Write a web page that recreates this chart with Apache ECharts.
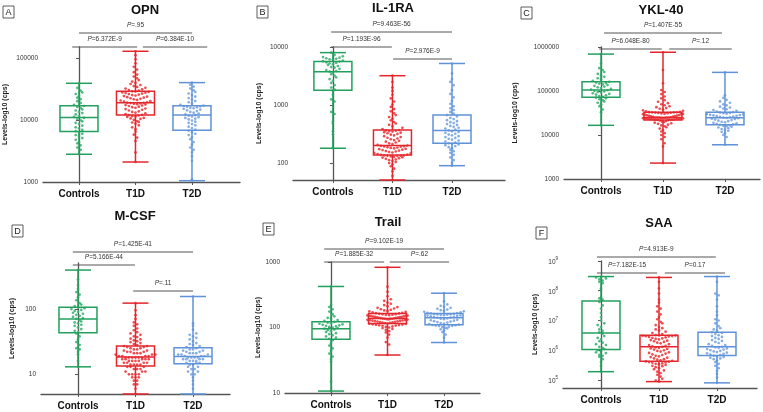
<!DOCTYPE html>
<html><head><meta charset="utf-8">
<script src="https://cdn.jsdelivr.net/npm/echarts@6/dist/echarts.min.js"></script>
<style>html,body{margin:0;padding:0;background:#fff}#c{width:763px;height:412px}</style>
</head><body><div id="c"></div>
<script>
// ---------- data ----------
const categories = ['Controls', 'T1D', 'T2D'];
const panelTitles = ['OPN', 'IL-1RA', 'YKL-40', 'M-CSF', 'Trail', 'SAA'];
const panelLetters = ['A', 'B', 'C', 'D', 'E', 'F'];

// y-axis tick values per panel
const yTicksA = [1000, 10000, 100000];
const yTicksB = [100, 1000, 10000];
const yTicksC = [1000, 10000, 100000, 1000000];
const yTicksD = [10, 100];
const yTicksE = [10, 100, 1000];
const yTicksF = [1e5, 1e6, 1e7, 1e8, 1e9];

// box stats [min, Q1, median, Q3, max] for Controls, T1D, T2D
const boxA = [[2800, 6500, 11000, 17000, 39000], [2100, 12000, 19000, 29000, 128000], [1050, 6800, 12000, 17000, 40000]];
const boxB = [[180, 1800, 3750, 5600, 8000], [51, 137, 200, 370, 3200], [90, 220, 365, 670, 5200]];
const boxC = [[16600, 72000, 105000, 163000, 690000], [2300, 22000, 25000, 33000, 760000], [6000, 17000, 24800, 33000, 265000]];
const boxD = [[13, 43, 70, 106, 390], [5, 13.4, 18.3, 27, 122], [5, 14.5, 18.7, 25.5, 154]];
const boxE = [[10.7, 66, 96, 122, 423], [38, 115, 137, 164, 830], [59, 110, 141, 164, 334]];
const boxF = [[1.9e5, 1.05e6, 3.8e6, 4.5e7, 3.0e8], [8.8e4, 4.3e5, 1.3e6, 3.2e6, 2.8e8], [8e4, 6.6e5, 1.3e6, 4e6, 3e8]];

// individual points
const ptsA_Ctrl = [2800,3300,3600,3900,4200,4400,4800,5100,5500,5700,6000,6300,6600,6900,7300,7600,8100,8600,9000,9500,9900,10400,10800,11200,11700,12300,12900,13500,14200,14800,15600,16200,16800,17600,18800,20100,21600,22900,24500,26200,27800,29600,33000,39000];
const ptsA_T1D = [2100,3000,4600,5200,5800,6500,7100,7600,8200,8700,9100,9300,9600,10000,10400,10600,10800,11200,11400,11500,11800,11950,12100,12400,12800,13100,13500,13800,14200,14600,15000,15300,15700,16100,16400,16800,17100,17400,17700,18000,18300,18500,18700,18900,19000,19300,19700,20100,20600,21000,21500,21900,22400,22900,23300,23800,24300,24700,25200,25700,26100,26600,27100,27500,27900,28300,28700,29000,29600,30400,31200,32100,33000,34100,35200,36600,38000,39500,41500,44000,47000,50000,54000,59000,65000,72000,82000,95000,110000,128000];
const ptsA_T2D = [1050,1100,2200,2600,3000,3300,3600,4000,4400,4900,5300,5700,6000,6300,6700,7000,7400,7800,8200,8600,9000,9400,9800,10200,10500,10800,11100,11400,11700,12000,12300,12700,13100,13500,13900,14300,14700,15100,15400,15700,16000,16300,16600,16800,17000,17600,18400,19300,20200,21300,22500,23800,25200,26700,28300,30000,32000,34500,37000,40000];

const ptsB_Ctrl = [180,310,350,480,520,700,760,1150,1250,1500,1750,1850,2000,2200,2400,2600,2800,3000,3200,3400,3600,3750,3850,4000,4200,4400,4500,4700,4900,5000,5200,5300,5450,5600,5700,5850,6000,6100,6250,6400,6550,6700,6900,7300,8000];
const ptsB_T1D = [51,60,72,80,88,95,100,104,108,112,115,118,121,124,126,128,130,132,133,134,135,136,138,140,143,146,149,152,155,158,161,164,167,170,173,176,179,182,185,188,191,193,195,198,200,205,212,219,226,233,241,249,257,265,273,281,290,299,308,317,326,334,341,348,354,360,365,370,385,405,430,455,480,510,545,580,620,670,720,780,850,930,1020,1150,1300,1500,1750,2000,2500,3200];
const ptsB_T2D = [90,100,112,125,138,150,160,170,180,188,196,203,209,214,219,225,235,244,253,262,271,280,290,300,310,320,332,343,354,365,378,392,406,421,437,453,470,488,507,527,548,572,600,635,670,710,760,820,880,950,1050,1180,1350,1550,1800,2200,2500,2800,3500,5200];

const ptsC_Ctrl = [16600,33000,38000,45000,50000,54000,58000,62000,65000,68000,71000,74000,77000,80000,83000,86000,89000,92000,95000,98000,101000,104000,108000,112000,117000,121000,126000,131000,136000,141000,146000,151000,157000,162000,170000,182000,195000,210000,225000,245000,270000,300000,330000,420000,690000];
const ptsC_T1D = [2300,5500,6500,8000,9000,10000,11000,12000,13000,14000,15000,15800,16500,17200,17900,18500,19100,19700,20300,20800,21300,21800,22000,22150,22300,22450,22600,22750,22900,23050,23200,23350,23500,23650,23800,23950,24100,24250,24400,24550,24700,24800,24900,24950,25000,25300,25700,26100,26500,26900,27300,27700,28100,28500,28900,29300,29700,30100,30500,30900,31300,31700,32000,32300,32600,32800,32900,33000,33500,34500,35500,36500,38000,39500,41000,43000,45000,47500,50000,53000,57000,62000,68000,75000,85000,95000,105000,150000,300000,760000];
const ptsC_T2D = [6000,9000,10000,11000,11800,12500,13100,13700,14300,14800,15300,15800,16200,16600,17000,17500,18000,18500,19000,19500,20000,20600,21200,21800,22400,23000,23500,24000,24400,24800,25300,25800,26300,26800,27300,27800,28300,28800,29400,30000,30600,31200,31800,32400,33000,34000,35500,37000,38500,40000,42000,44000,47000,50000,54000,58000,63000,70000,80000,265000];

const ptsD_Ctrl = [13,16,20,22,24,25,28,31,34,38,42,44,46,49,52,55,57,60,62,64,67,70,72,75,78,81,84,87,90,93,96,99,102,105,110,116,122,135,150,165,180,200,230,280,390];
const ptsD_T1D = [5,6,7,7,8,8,9,9,9,10,10,10,10,11,11,11,12,12,12,13,13,13,14,14,14,14,15,15,15,15,16,16,16,16,17,17,17,17,17,18,18,18,18,18,18,19,19,19,19,20,20,20,21,21,21,22,22,22,23,23,24,24,25,25,26,26,27,27,28,29,30,31,32,33,34,35,37,38,40,42,44,47,50,55,58,62,70,80,95,122];
const ptsD_T2D = [5,6,7,8,9,10,10,11,11,12,12,13,13,14,14,15,15,15,16,16,16,17,17,17,17,18,18,18,18,19,19,19,20,20,20,21,21,21,22,22,23,23,24,24,25,26,27,28,29,30,32,34,36,38,40,42,48,55,60,154];

const ptsE_Ctrl = [10.7,15,30,33,36,40,44,48,53,58,64,67,70,73,76,79,82,85,88,91,93,96,98,100,102,104,106,108,110,112,114,116,119,122,126,130,135,140,148,160,175,190,205,220,423];
const ptsE_T1D = [38,55,60,70,78,84,88,92,95,98,100,102,104,106,107,108,109,110,111,112,113,114,116,117,118,119,120,121,122,123,124,125,126,127,128,129,130,131,132,133,134,135,136,136,137,138,139,140,141,142,143,144,145,146,147,148,149,150,151,152,153,154,156,157,159,160,162,164,166,168,170,173,176,179,182,186,190,195,200,205,212,220,230,240,255,270,300,350,420,830];
const ptsE_T2D = [59,70,78,85,90,94,97,99,101,103,105,106,107,108,109,111,113,115,117,119,121,123,125,127,129,131,134,136,138,141,142,144,146,148,150,152,153,154,155,157,158,159,160,162,164,166,168,171,174,177,180,184,188,193,200,208,215,225,250,334];

const ptsF_Ctrl = [1.9e5,3e5,4e5,5e5,6e5,6.5e5,7e5,8e5,8.5e5,9e5,1e6,1.1e6,1.2e6,1.3e6,1.5e6,1.6e6,1.8e6,2e6,2.3e6,2.6e6,3e6,3.6e6,4e6,4.5e6,5e6,6e6,7e6,8e6,1e7,1.3e7,1.8e7,2.5e7,3.2e7,4.2e7,5e7,5.5e7,6e7,1.2e8,1.8e8,2e8,2.2e8,2.4e8,2.6e8,2.8e8,3e8];
const ptsF_T1D = [8.8e4,9.5e4,1.1e5,1.3e5,1.5e5,1.7e5,1.9e5,2.1e5,2.3e5,2.5e5,2.7e5,2.9e5,3e5,3.2e5,3.4e5,3.5e5,3.6e5,3.8e5,3.9e5,4e5,4.1e5,4.2e5,4.4e5,4.6e5,4.8e5,5e5,5.3e5,5.6e5,5.9e5,6.2e5,6.5e5,6.9e5,7.3e5,7.7e5,8.1e5,8.5e5,9e5,9.5e5,1e6,1.05e6,1.1e6,1.15e6,1.2e6,1.25e6,1.3e6,1.35e6,1.4e6,1.5e6,1.6e6,1.7e6,1.8e6,1.9e6,2e6,2.1e6,2.2e6,2.3e6,2.4e6,2.5e6,2.6e6,2.7e6,2.8e6,2.9e6,2.95e6,3e6,3.05e6,3.1e6,3.15e6,3.2e6,3.5e6,3.8e6,4.2e6,4.6e6,5e6,5.5e6,6e6,7e6,8e6,9e6,1.1e7,1.3e7,1.6e7,2e7,2.5e7,3e7,4e7,5e7,8e7,1.2e8,2e8,2.8e8];
const ptsF_T2D = [8e4,1.2e5,1.6e5,2e5,2.5e5,3e5,3.5e5,4e5,4.5e5,5e5,5.3e5,5.6e5,5.9e5,6.2e5,6.5e5,6.8e5,7.1e5,7.5e5,7.9e5,8.3e5,8.7e5,9.1e5,9.5e5,1e6,1.05e6,1.1e6,1.15e6,1.2e6,1.25e6,1.3e6,1.4e6,1.5e6,1.6e6,1.75e6,1.9e6,2.05e6,2.2e6,2.4e6,2.6e6,2.8e6,3e6,3.2e6,3.5e6,3.8e6,4e6,4.5e6,5e6,5.5e6,6.5e6,8e6,1e7,1.1e7,1.5e7,2e7,3e7,5e7,7e7,8e7,2e8,3e8];

// p-value labels: [outer Controls-T2D, Controls-T1D, T1D-T2D]
const pA = ['=.95', '=6.372E-9', '=6.384E-10'];
const pB = ['=9.463E-56', '=1.193E-96', '=2.976E-9'];
const pC = ['=1.407E-55', '=6.048E-80', '=.12'];
const pD = ['=1.425E-41', '=5.166E-44', '=.11'];
const pE = ['=9.102E-19', '=1.885E-32', '=.62'];
const pF = ['=4.913E-9', '=7.182E-15', '=0.17'];

// ---------- layout / style ----------
const FONT = '"Liberation Sans", Arial, sans-serif';
const boxColors = ['#23a05e', '#e3262c', '#5f92d8'];
const dotColors = ['#3cb273', '#ec3a3f', '#7aa5e0'];
const AXIS_COLOR = '#555';

const panels = [
  {box: boxA, pts: [ptsA_Ctrl, ptsA_T1D, ptsA_T2D], ticks: yTicksA, p: pA, grid: {left: 43, top: 47, width: 197, height: 135}, xMin: -0.637, xMax: 2.85, yMin: 1000, yMax: 150000, nameGap: 34, title: [145, 10], lbl: [3, 6],
   br: [{a: 0, b: 2, dy: -14}, {a: -0.12, b: 1.03, dy: 0}, {a: 1.13, b: 2.27, dy: 0}]},
  {box: boxB, pts: [ptsB_Ctrl, ptsB_T1D, ptsB_T2D], ticks: yTicksB, p: pB, grid: {left: 293, top: 47, width: 212, height: 133}, xMin: -0.67, xMax: 2.89, yMin: 51, yMax: 10000, nameGap: 30, title: [393, 8], lbl: [257, 6],
   br: [{a: -0.03, b: 2.0, dy: -15}, {a: -0.03, b: 0.99, dy: 0}, {a: 1.01, b: 2.0, dy: 12}]},
  {box: boxC, pts: [ptsC_Ctrl, ptsC_T1D, ptsC_T2D], ticks: yTicksC, p: pC, grid: {left: 564, top: 47, width: 196, height: 132}, xMin: -0.597, xMax: 2.565, yMin: 1000, yMax: 1000000, nameGap: 45, title: [661, 10], lbl: [521, 7],
   br: [{a: 0.05, b: 1.95, dy: -14}, {a: -0.03, b: 0.98, dy: 2}, {a: 1.1, b: 2.11, dy: 2}]},
  {box: boxD, pts: [ptsD_Ctrl, ptsD_T1D, ptsD_T2D], ticks: yTicksD, p: pD, grid: {left: 41, top: 263, width: 189, height: 131}, xMin: -0.643, xMax: 2.643, yMin: 5, yMax: 500, nameGap: 25, title: [135, 216], lbl: [12, 225],
   br: [{a: -0.09, b: 2.0, dy: -11}, {a: -0.09, b: 0.99, dy: 2}, {a: 0.96, b: 2.0, dy: 28}]},
  {box: boxE, pts: [ptsE_Ctrl, ptsE_T1D, ptsE_T2D], ticks: yTicksE, p: pE, grid: {left: 285, top: 262, width: 195, height: 131}, xMin: -0.814, xMax: 2.637, yMin: 10, yMax: 1000, nameGap: 20, title: [388, 222], lbl: [263, 223],
   br: [{a: -0.12, b: 2.0, dy: -13}, {a: -0.12, b: 0.94, dy: 0}, {a: 1.04, b: 2.09, dy: 0}]},
  {box: boxF, pts: [ptsF_Ctrl, ptsF_T1D, ptsF_T2D], ticks: yTicksF, p: pF, grid: {left: 563, top: 261, width: 194, height: 127}, xMin: -0.655, xMax: 2.69, yMin: 53700, yMax: 1e9, nameGap: 24, title: [659, 223], lbl: [536, 227], sup: true,
   br: [{a: -0.07, b: 1.98, dy: -4}, {a: -0.07, b: 0.97, dy: 12}, {a: 1.1, b: 2.14, dy: 12}]}
];

const ROW_H = 4.2, DOT_GAP = 3.3, MAX_ROW_W = 40, DOT_SIZE = 2.7, BOX_HW = 19, CAP_HW = 13;

// beeswarm layout: rows by pixel height, spread horizontally (row width capped)
function swarm(values, cat, p) {
  const lmin = Math.log10(p.yMin);
  const ppd = p.grid.height / (Math.log10(p.yMax) - lmin);
  const ppu = p.grid.width / (p.xMax - p.xMin);
  const rows = new Map();
  values.forEach(v => {
    const r = Math.round((Math.log10(v) - lmin) * ppd / ROW_H);
    if (!rows.has(r)) rows.set(r, []);
    rows.get(r).push(v);
  });
  const out = [];
  rows.forEach(arr => {
    const n = arr.length;
    const gap = Math.min(DOT_GAP, n > 1 ? MAX_ROW_W / (n - 1) : DOT_GAP);
    arr.forEach((v, i) => {
      const k = (i % 2 === 0) ? i / 2 : -(i + 1) / 2;
      const shift = (n % 2 === 0) ? 0.5 : 0;
      out.push([cat + (k + shift) * gap / ppu, v]);
    });
  });
  return out;
}

const grids = [], xAxes = [], yAxes = [], series = [], graphics = [];
panels.forEach((p, gi) => {
  grids.push(Object.assign({}, p.grid));
  xAxes.push({
    type: 'value', gridIndex: gi, min: p.xMin, max: p.xMax,
    axisLine: {show: true, onZero: false, lineStyle: {color: AXIS_COLOR, width: 1.3}},
    axisTick: {show: true, customValues: [0, 1, 2], length: 3, lineStyle: {color: AXIS_COLOR}},
    axisLabel: {show: true, customValues: [0, 1, 2], margin: 7, fontSize: 10, fontWeight: 'bold', color: '#111', fontFamily: FONT,
      formatter: v => categories[Math.round(v)] || ''},
    splitLine: {show: false}
  });
  yAxes.push({
    type: 'log', gridIndex: gi, min: p.yMin, max: p.yMax, logBase: 10,
    name: 'Levels-log10 (cps)', nameLocation: 'middle', nameGap: p.nameGap, nameRotate: 90,
    nameTextStyle: {fontSize: 7, fontWeight: 'bold', color: '#222', fontFamily: FONT},
    axisLine: {show: true, lineStyle: {color: AXIS_COLOR, width: 1.3}},
    axisTick: {show: true, customValues: p.ticks, length: 3, lineStyle: {color: AXIS_COLOR}},
    minorTick: {show: false},
    axisLabel: p.sup ? {
      customValues: p.ticks, margin: 5, fontFamily: FONT,
      formatter: v => '{n|10}{s|' + Math.round(Math.log10(v)) + '}',
      rich: {n: {fontSize: 6.5, color: '#333', verticalAlign: 'bottom', lineHeight: 9, fontFamily: FONT},
             s: {fontSize: 4.5, color: '#333', verticalAlign: 'top', lineHeight: 9, fontFamily: FONT}}
    } : {customValues: p.ticks, margin: 5, fontSize: 6.5, color: '#333', fontFamily: FONT, formatter: v => String(Math.round(v))},
    splitLine: {show: false}
  });

  // points
  p.pts.forEach((vals, ci) => {
    series.push({
      type: 'scatter', xAxisIndex: gi, yAxisIndex: gi, data: swarm(vals, ci, p),
      symbol: 'circle', symbolSize: DOT_SIZE, itemStyle: {color: dotColors[ci], opacity: 0.9}, z: 2, silent: true
    });
  });

  // boxes
  series.push({
    type: 'custom', xAxisIndex: gi, yAxisIndex: gi, z: 3, silent: true,
    data: p.box.map((b, ci) => [ci].concat(b)),
    renderItem: (params, api) => {
      const ci = api.value(0);
      const col = boxColors[ci];
      const c = k => api.coord([ci, api.value(k)]);
      const mn = c(1), q1 = c(2), md = c(3), q3 = c(4), mx = c(5);
      const x = mn[0];
      const st = {stroke: col, lineWidth: 1.5, fill: null};
      return {type: 'group', children: [
        {type: 'rect', shape: {x: x - BOX_HW, y: q3[1], width: 2 * BOX_HW, height: q1[1] - q3[1]}, style: st},
        {type: 'line', shape: {x1: x - BOX_HW, y1: md[1], x2: x + BOX_HW, y2: md[1]}, style: st},
        {type: 'line', shape: {x1: x, y1: q3[1], x2: x, y2: mx[1]}, style: st},
        {type: 'line', shape: {x1: x, y1: q1[1], x2: x, y2: mn[1]}, style: st},
        {type: 'line', shape: {x1: x - CAP_HW, y1: mx[1], x2: x + CAP_HW, y2: mx[1]}, style: st},
        {type: 'line', shape: {x1: x - CAP_HW, y1: mn[1], x2: x + CAP_HW, y2: mn[1]}, style: st}
      ]};
    }
  });

  // significance brackets
  series.push({
    type: 'custom', xAxisIndex: gi, yAxisIndex: gi, z: 4, silent: true, clip: false,
    data: p.br.map((b, k) => [b.a, b.b, b.dy, k]),
    renderItem: (params, api) => {
      const top = params.coordSys.y;
      const x1 = api.coord([api.value(0), p.yMin])[0];
      const x2 = api.coord([api.value(1), p.yMin])[0];
      const y = top + api.value(2);
      const k = api.value(3);
      return {type: 'group', children: [
        {type: 'line', shape: {x1: x1, y1: y, x2: x2, y2: y}, style: {stroke: '#555', lineWidth: 1}},
        {type: 'text', x: (x1 + x2) / 2, y: y - 7.5, style: {
          text: '{i|P}' + p.p[k], align: 'center', verticalAlign: 'middle',
          rich: {i: {fontStyle: 'italic', fontSize: 6.5, fill: '#333', fontFamily: FONT}},
          fontSize: 6.5, fill: '#333', fontFamily: FONT}}
      ]};
    }
  });

  // title
  graphics.push({type: 'text', x: p.title[0], y: p.title[1], style: {
    text: panelTitles[gi], font: 'bold 13px ' + FONT, fill: '#111', align: 'center', verticalAlign: 'middle'}});
  // panel letter box
  graphics.push({type: 'rect', x: p.lbl[0], y: p.lbl[1], shape: {width: 11, height: 12}, style: {fill: '#fff', stroke: '#333', lineWidth: 0.8}});
  graphics.push({type: 'text', x: p.lbl[0] + 5.5, y: p.lbl[1] + 6.3, style: {
    text: panelLetters[gi], font: '9px ' + FONT, fill: '#222', align: 'center', verticalAlign: 'middle'}});
});

const chart = echarts.init(document.getElementById('c'), null, {renderer: 'canvas'});
chart.setOption({
  animation: false,
  backgroundColor: '#fff',
  textStyle: {fontFamily: FONT},
  grid: grids, xAxis: xAxes, yAxis: yAxes, series: series, graphic: graphics
});
</script>
</body></html>
